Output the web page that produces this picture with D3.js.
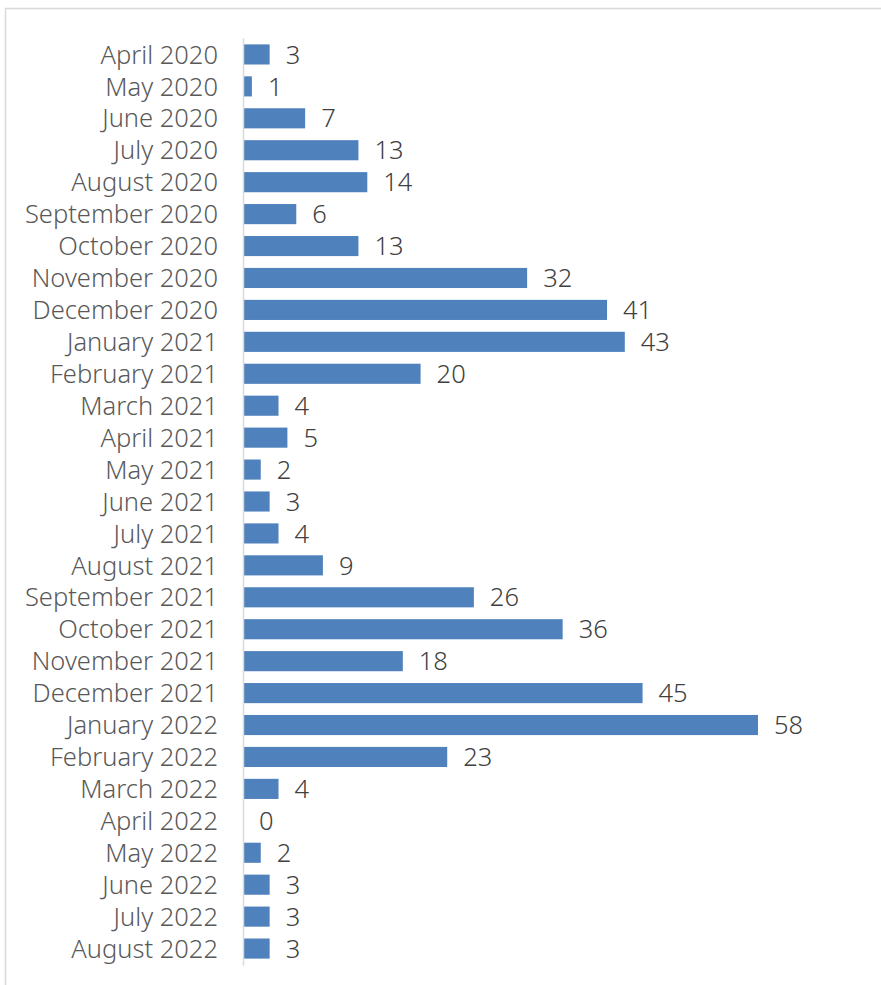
<!DOCTYPE html>
<html>
<head>
<meta charset="utf-8">
<script src="https://cdn.jsdelivr.net/npm/d3@7"></script>
<style>
  body { margin: 0; background: #fff; }
  svg { display: block; }
</style>
</head>
<body>
<svg id="chart"></svg>
<script>
// monthly counts
const months = [
  "April 2020", "May 2020", "June 2020", "July 2020", "August 2020",
  "September 2020", "October 2020", "November 2020", "December 2020",
  "January 2021", "February 2021", "March 2021", "April 2021", "May 2021",
  "June 2021", "July 2021", "August 2021", "September 2021", "October 2021",
  "November 2021", "December 2021", "January 2022", "February 2022",
  "March 2022", "April 2022", "May 2022", "June 2022", "July 2022",
  "August 2022"
];
const counts = [
  3, 1, 7, 13, 14, 6, 13, 32, 41, 43, 20, 4, 5, 2, 3, 4, 9, 26, 36, 18,
  45, 58, 23, 4, 0, 2, 3, 3, 3
];

const width = 881, height = 985;
const margin = { top: 38, right: 123, bottom: 20, left: 243 };
const font = "'Noto Sans', sans-serif";
const fontSize = 25.5;

const data = months.map((m, i) => ({ month: m, count: counts[i] }));

const svg = d3.select("#chart").attr("width", width).attr("height", height);

// chart frame (top & left edges visible)
svg.append("line")
  .attr("x1", 5).attr("x2", width).attr("y1", 8.5).attr("y2", 8.5)
  .attr("stroke", "#d9d9d9").attr("stroke-width", 1.5);
svg.append("line")
  .attr("x1", 5.5).attr("x2", 5.5).attr("y1", 8).attr("y2", height)
  .attr("stroke", "#d9d9d9").attr("stroke-width", 1.5);

const x = d3.scaleLinear()
  .domain([0, 58])
  .range([margin.left, 758]);

const y = d3.scaleBand()
  .domain(months)
  .range([margin.top, height - margin.bottom])
  .paddingInner(0.37)
  .paddingOuter(0.2);

svg.append("g")
  .selectAll("rect")
  .data(data)
  .join("rect")
  .attr("x", x(0))
  .attr("y", (d) => y(d.month))
  .attr("width", (d) => x(d.count) - x(0))
  .attr("height", y.bandwidth())
  .attr("fill", "#4f81bd");

// value labels
svg.append("g")
  .selectAll("text")
  .data(data)
  .join("text")
  .attr("x", (d) => x(d.count) + 16)
  .attr("y", (d) => y(d.month) + y.bandwidth() / 2)
  .attr("dy", "0.36em")
  .attr("font-family", font)
  .attr("font-size", fontSize)
  .attr("font-weight", 300)
  .attr("fill", "#404040")
  .text((d) => d.count);

// category axis
const yAxis = svg.append("g")
  .attr("transform", `translate(${x(0)},0)`)
  .call(d3.axisLeft(y).tickSize(0).tickPadding(25));

yAxis.select(".domain")
  .attr("stroke", "#d9d9d9")
  .attr("stroke-width", 1.5);
yAxis.selectAll("text")
  .attr("font-family", font)
  .attr("font-size", fontSize)
  .attr("font-weight", 300)
  .attr("dy", "0.36em")
  .attr("fill", "#595959");
</script>
</body>
</html>
